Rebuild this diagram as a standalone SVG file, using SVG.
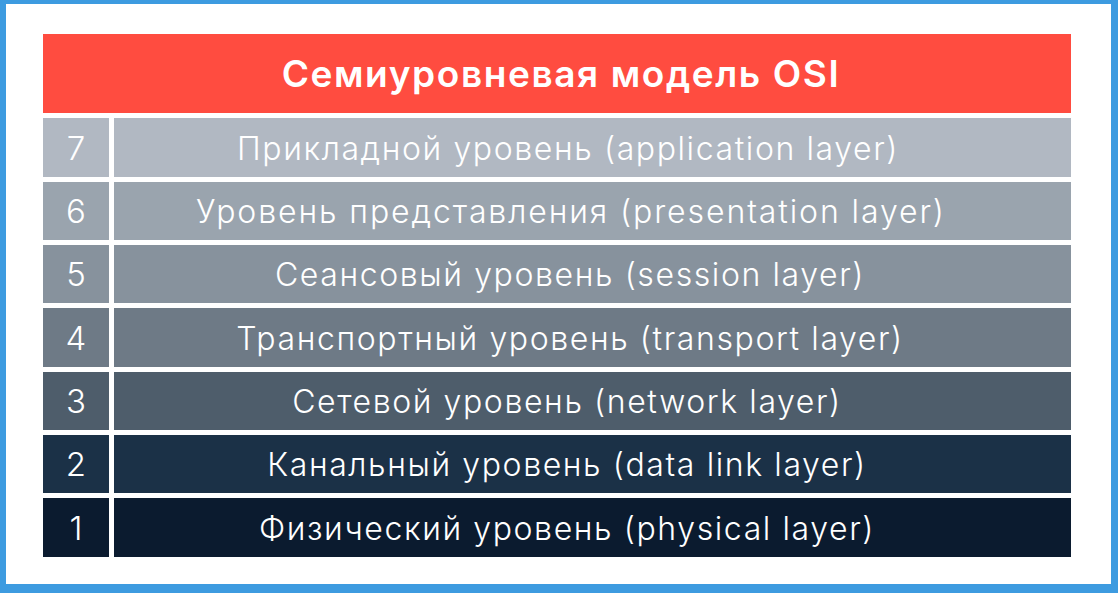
<svg xmlns="http://www.w3.org/2000/svg" width="1118" height="593" viewBox="0 0 1118 593">
<style>
.t{font-family:Inter,"Noto Sans","Liberation Sans",sans-serif;font-weight:300;font-size:32px;letter-spacing:1.6px;fill:#ffffff;text-anchor:middle}
.n{font-family:Inter,"Noto Sans","Liberation Sans",sans-serif;font-weight:300;font-size:33px;fill:#ffffff;text-anchor:middle}
.h{font-family:Inter,"Noto Sans","Liberation Sans",sans-serif;font-weight:600;font-size:37px;letter-spacing:1.6px;fill:#ffffff;text-anchor:middle}
</style>
<rect x="0" y="0" width="1118" height="593" fill="#3D9BE0"/>
<rect x="6" y="4" width="1105" height="580" fill="#ffffff"/>
<g id="title">
<rect x="43" y="34" width="1028" height="79" fill="#FF4C40"/>
<text class="h" x="561" y="87">Семиуровневая модель OSI</text>
</g>
<g id="layer7">
<rect x="43" y="118" width="66" height="59" fill="#B1B8C2"/>
<rect x="114" y="118" width="957" height="59" fill="#B1B8C2"/>
<text class="n" x="76" y="160">7</text>
<text class="t" x="568" y="160">Прикладной уровень (application layer)</text>
</g>
<g id="layer6">
<rect x="43" y="182" width="66" height="58" fill="#9AA4AE"/>
<rect x="114" y="182" width="957" height="58" fill="#9AA4AE"/>
<text class="n" x="76" y="223">6</text>
<text class="t" x="571" y="223" style="letter-spacing:1.9px">Уровень представления (presentation layer)</text>
</g>
<g id="layer5">
<rect x="43" y="245" width="66" height="58" fill="#87929D"/>
<rect x="114" y="245" width="957" height="58" fill="#87929D"/>
<text class="n" x="76" y="286">5</text>
<text class="t" x="570" y="286">Сеансовый уровень (session layer)</text>
</g>
<g id="layer4">
<rect x="43" y="308" width="66" height="59" fill="#6E7A86"/>
<rect x="114" y="308" width="957" height="59" fill="#6E7A86"/>
<text class="n" x="76" y="350">4</text>
<text class="t" x="570" y="350">Транспортный уровень (transport layer)</text>
</g>
<g id="layer3">
<rect x="43" y="372" width="66" height="58" fill="#4E5D6B"/>
<rect x="114" y="372" width="957" height="58" fill="#4E5D6B"/>
<text class="n" x="76" y="413">3</text>
<text class="t" x="567" y="413">Сетевой уровень (network layer)</text>
</g>
<g id="layer2">
<rect x="43" y="435" width="66" height="58" fill="#1B3147"/>
<rect x="114" y="435" width="957" height="58" fill="#1B3147"/>
<text class="n" x="76" y="476">2</text>
<text class="t" x="567" y="476">Канальный уровень (data link layer)</text>
</g>
<g id="layer1">
<rect x="43" y="498" width="66" height="59" fill="#0B1B2F"/>
<rect x="114" y="498" width="957" height="59" fill="#0B1B2F"/>
<text class="n" x="76" y="540">1</text>
<text class="t" x="567" y="540">Физический уровень (physical layer)</text>
</g>
<g id="connectors"/>
</svg>
